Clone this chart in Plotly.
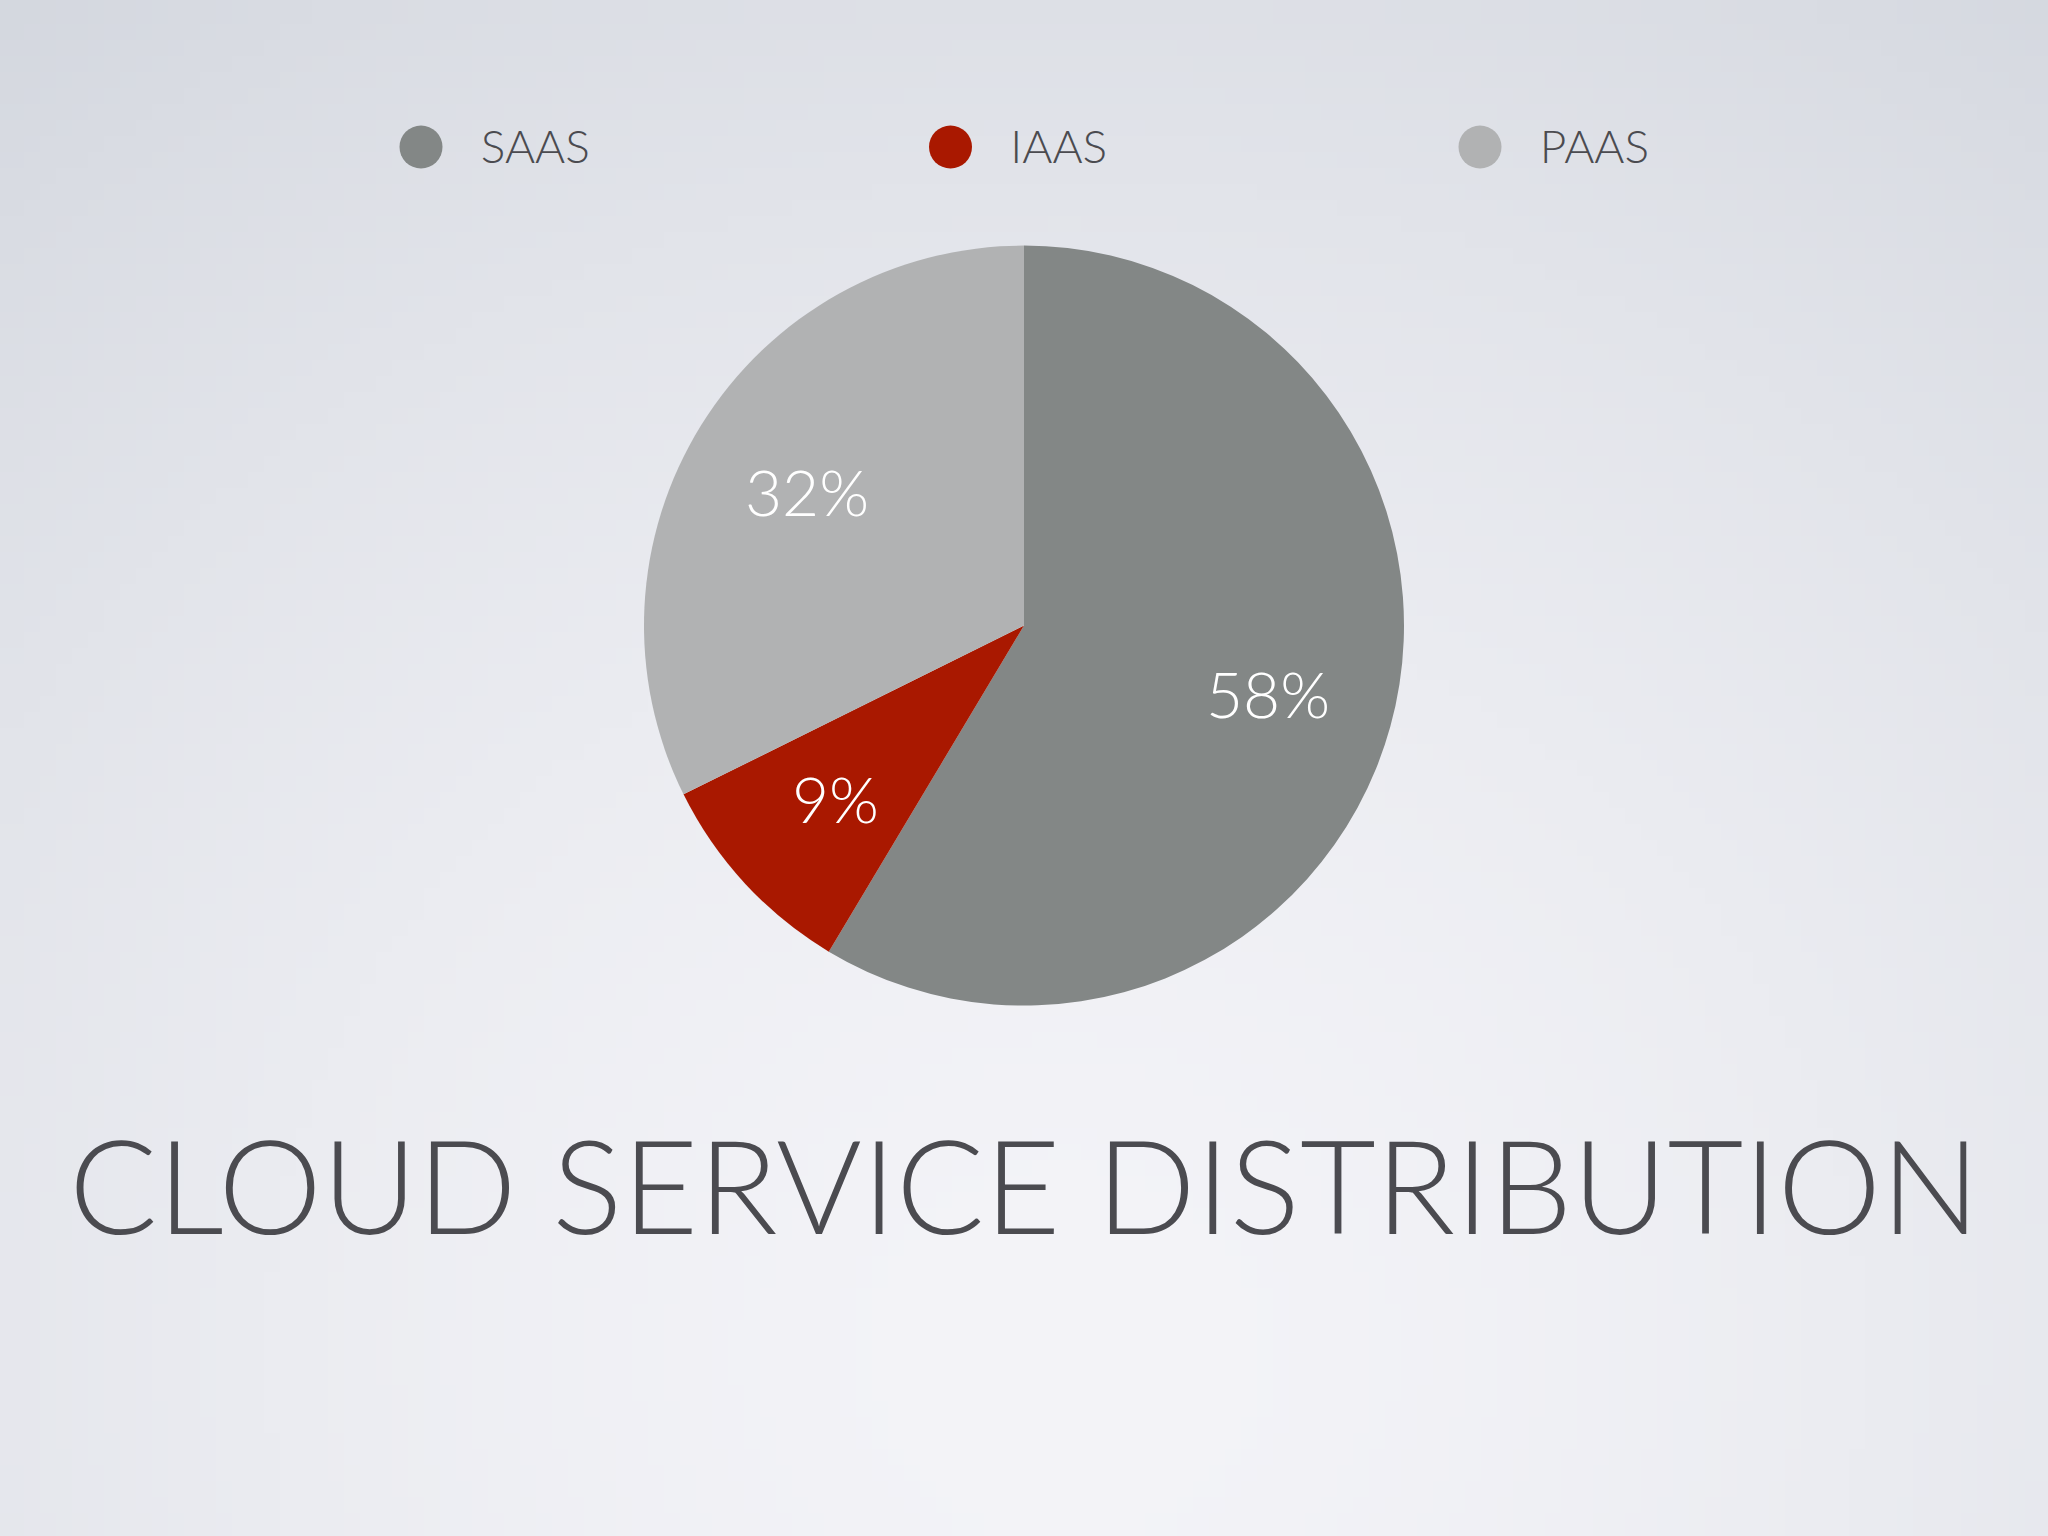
import math, zlib, struct, base64
import numpy as np
import plotly.graph_objects as go

# ---- data ----
categories = ["SAAS", "IAAS", "PAAS"]
shares = [58, 9, 32]
slice_colors = ["#838786", "#a91800", "#b1b2b3"]
title_text = "CLOUD SERVICE DISTRIBUTION"

W, H = 2048, 1536
FONT = "Lato"
TEXT_COLOR = "#4b4b50"

# ---- background gradient image (style only) ----
def make_bg(w=128, h=96):
    yy, xx = np.mgrid[0:h, 0:w]
    nx = (xx + 0.5) / w
    ny = (yy + 0.5) / h
    d = np.sqrt(((nx - 0.52) / 0.75) ** 2 + ((ny - 0.88) / 0.95) ** 2)
    d = np.clip(d, 0, 1.25) / 1.25
    c0 = np.array([244, 244, 248], float)
    c1 = np.array([208, 212, 220], float)
    t = d ** 1.6
    img = c0[None, None, :] * (1 - t[..., None]) + c1[None, None, :] * t[..., None]
    img = img.astype(np.uint8)
    raw = b"".join(b"\x00" + img[r].tobytes() for r in range(h))
    def chunk(tag, data):
        c = struct.pack(">I", len(data)) + tag + data
        return c + struct.pack(">I", zlib.crc32(tag + data) & 0xffffffff)
    png = b"\x89PNG\r\n\x1a\n" + chunk(b"IHDR", struct.pack(">IIBBBBB", w, h, 8, 2, 0, 0, 0)) \
        + chunk(b"IDAT", zlib.compress(raw, 9)) + chunk(b"IEND", b"")
    return "data:image/png;base64," + base64.b64encode(png).decode()

# ---- pie geometry ----
cx_px, cy_px, R = 1023.0, 625.6, 380.0
dom_y0 = 1 - (cy_px + R) / H
dom_y1 = 1 - (cy_px - R) / H

fig = go.Figure()
fig.add_trace(go.Pie(
    labels=categories, values=shares, sort=False, direction="clockwise", rotation=0,
    marker=dict(colors=slice_colors, line=dict(width=0)),
    textinfo="none", hoverinfo="label+percent", showlegend=False,
    domain=dict(x=[0.0, 1.0], y=[dom_y0, dom_y1]),
))

# percentage labels at slice mid-angles
total = sum(shares)
cum = 0.0
annotations = []
for v in shares:
    mid = (cum + v / 2) / total * 2 * math.pi
    cum += v
    px = cx_px + 0.67 * R * math.sin(mid)
    py = cy_px - 0.67 * R * math.cos(mid)
    annotations.append(dict(
        x=px / W, y=1 - py / H, xref="paper", yref="paper",
        text=f"{v}%", showarrow=False, xanchor="center", yanchor="middle",
        font=dict(family=FONT, size=64, color="white", weight=300),
    ))

annotations.append(dict(
    x=0.5, y=1 - 1183 / H, xref="paper", yref="paper", text=title_text,
    showarrow=False, xanchor="center", yanchor="middle",
    font=dict(family=FONT, size=131, color=TEXT_COLOR, weight=300),
))

# legend row drawn as scatter markers on a hidden axis
idx = list(range(len(categories)))
fig.add_trace(go.Scatter(
    x=idx, y=[0.5] * len(idx), mode="markers",
    marker=dict(size=43, color=slice_colors, line=dict(width=0)),
    hoverinfo="skip", showlegend=False,
))
fig.add_trace(go.Scatter(
    x=[i + 0.113 for i in idx], y=[0.455] * len(idx), mode="text", text=categories,
    textposition="middle right",
    textfont=dict(family=FONT, size=46, color=TEXT_COLOR, weight=300),
    hoverinfo="skip", showlegend=False,
))

unit = (1480 - 421) / 2.0
leg_y = 1 - 147 / H
fig.update_layout(
    width=W, height=H, margin=dict(l=0, r=0, t=0, b=0),
    paper_bgcolor="#e8e9ee", plot_bgcolor="rgba(0,0,0,0)",
    xaxis=dict(range=[-421 / unit, (W - 421) / unit], visible=False, fixedrange=True),
    yaxis=dict(range=[0, 1], domain=[leg_y - 0.03, leg_y + 0.03], visible=False, fixedrange=True),
    annotations=annotations,
    images=[dict(source=make_bg(), xref="paper", yref="paper", x=0, y=1, sizex=1, sizey=1,
                 sizing="stretch", layer="below", xanchor="left", yanchor="top")],
    showlegend=False,
)

fig.write_html("out.html", config={"displayModeBar": False},
               post_script="document.body.style.margin='0';document.body.style.overflow='hidden';")
